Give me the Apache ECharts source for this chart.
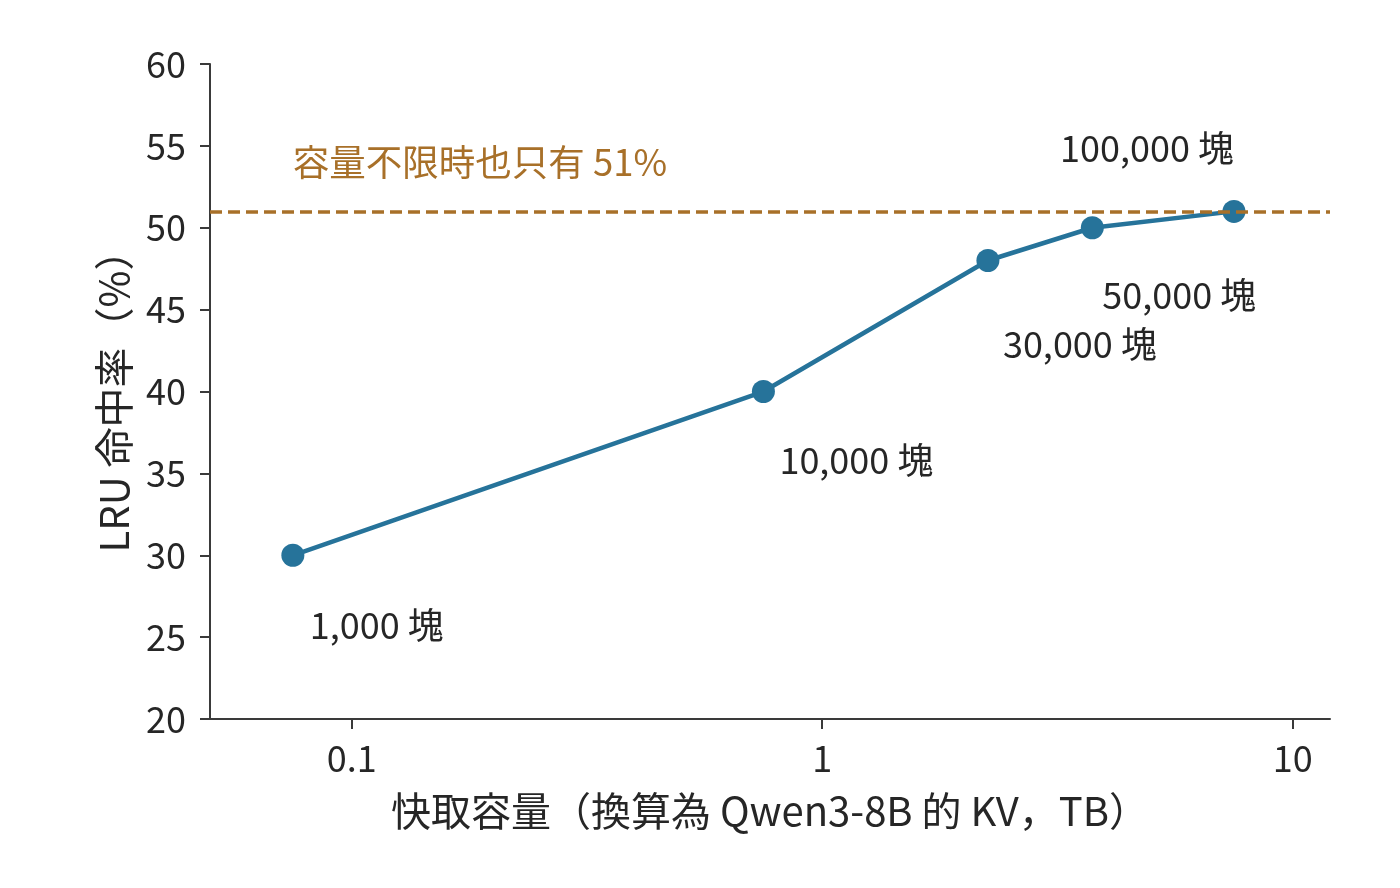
<!DOCTYPE html>
<html>
<head>
<meta charset="utf-8">
<script src="https://cdn.jsdelivr.net/npm/echarts@6/dist/echarts.min.js"></script>
<style>
  html, body { margin: 0; padding: 0; background: #fff; }
  #main { width: 1400px; height: 888px; }
</style>
</head>
<body>
<div id="main"></div>
<script>
// 快取容量（TB）與 LRU 命中率
let capacityTB = [0.075, 0.75, 2.25, 3.75, 7.5];
let hitRate = [30, 40, 48, 50, 51];
let blockLabels = ["1,000 塊", "10,000 塊", "30,000 塊", "50,000 塊", "100,000 塊"];
let xTicks = [0.1, 1, 10];
let limitRate = 51;
let limitText = "容量不限時也只有 51%";
let limitTextPos = [0.075, 54];

// label offsets from each point (px), style only
let labelAlign = ["left", "left", "left", "left", "right"];
let labelOffset = [[17, 70], [16, 69], [15, 84], [10, 68], [0, -63]];

let font = "Noto Sans CJK JP";
let textColor = "#262626";
let lineColor = "#26739a";
let limitColor = "#a87029";

let myChart = echarts.init(document.getElementById("main"));

let points = [];
for (let i = 0; i < capacityTB.length; i++) {
  points.push({
    value: [capacityTB[i], hitRate[i]],
    label: {
      show: true,
      formatter: blockLabels[i],
      position: "inside",
      align: labelAlign[i],
      verticalAlign: "middle",
      offset: labelOffset[i],
    },
  });
}

let option = {
  animation: false,
  grid: { left: 210, right: 70, top: 64, bottom: 169 },
  xAxis: {
    type: "log",
    logBase: 10,
    min: 0.05,
    max: 12,
    name: "快取容量（換算為 Qwen3-8B 的 KV，TB）",
    nameLocation: "middle",
    nameGap: 72,
    nameTextStyle: { fontFamily: font, fontSize: 40, color: textColor },
    axisLine: { lineStyle: { color: "#3a3a3a", width: 2 } },
    axisTick: { show: true, length: 10, lineStyle: { width: 2, color: "#3a3a3a" }, customValues: xTicks },
    minorTick: { show: false },
    splitLine: { show: false },
    axisLabel: {
      customValues: xTicks,
      margin: 21,
      fontFamily: font,
      fontSize: 36,
      color: textColor,
      formatter: (v) => String(v),
    },
  },
  yAxis: {
    type: "value",
    min: 20,
    max: 60,
    interval: 5,
    name: "LRU 命中率（%）",
    nameLocation: "middle",
    nameGap: 76,
    nameTextStyle: { fontFamily: font, fontSize: 40, color: textColor },
    axisLine: { show: true, lineStyle: { color: "#3a3a3a", width: 2 } },
    axisTick: { show: true, length: 10, lineStyle: { width: 2, color: "#3a3a3a" } },
    splitLine: { show: false },
    axisLabel: { margin: 24, fontFamily: font, fontSize: 36, color: textColor },
  },
  series: [
    {
      type: "line",
      data: points,
      symbol: "circle",
      symbolSize: 23,
      lineStyle: { color: lineColor, width: 4.5 },
      itemStyle: { color: lineColor },
      label: { fontFamily: font, fontSize: 36, color: textColor },
      z: 2,
      markLine: {
        silent: true,
        symbol: "none",
        z: 5,
        lineStyle: { color: limitColor, type: [12, 6], width: 3.5 },
        label: { show: false },
        data: [{ yAxis: limitRate }],
      },
      markPoint: {
        silent: true,
        symbol: "circle",
        symbolSize: 0,
        data: [
          {
            coord: limitTextPos,
            label: {
              show: true,
              formatter: limitText,
              position: "inside",
              align: "left",
              verticalAlign: "middle",
              fontFamily: font,
              fontSize: 36.5,
              color: limitColor,
            },
          },
        ],
      },
    },
  ],
};

myChart.setOption(option);
</script>
</body>
</html>
